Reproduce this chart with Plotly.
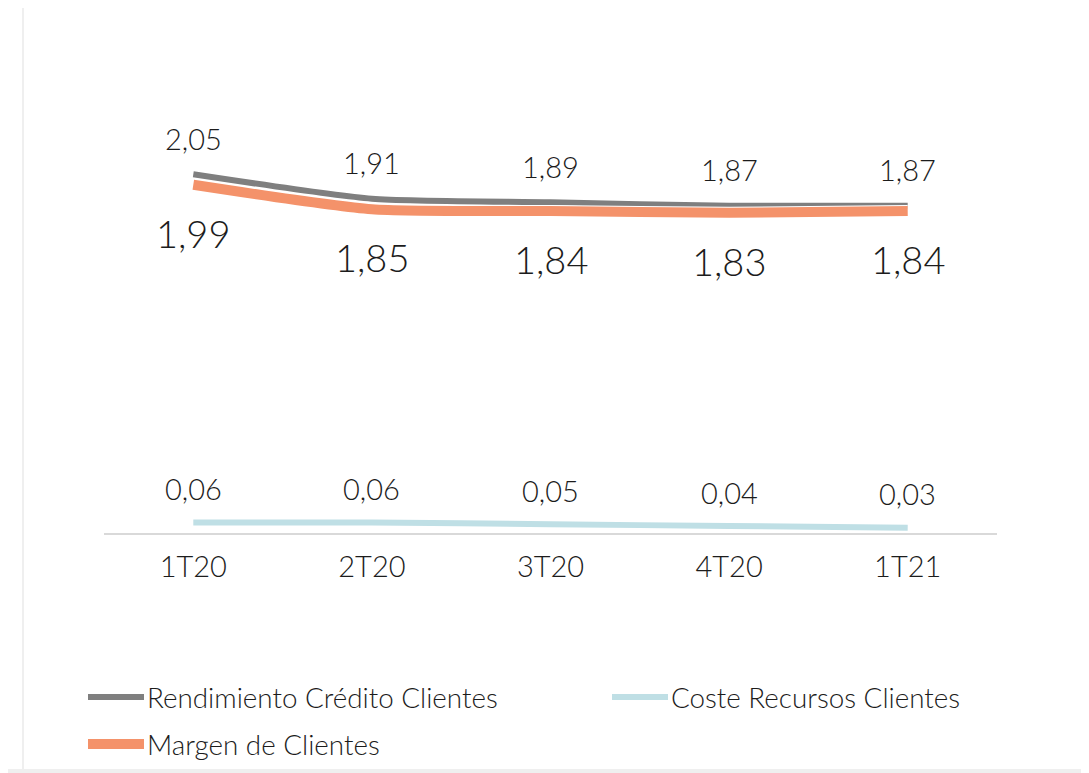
import plotly.graph_objects as go

categories = ["1T20", "2T20", "3T20", "4T20", "1T21"]
rendimiento = [2.05, 1.91, 1.89, 1.87, 1.87]
coste = [0.06, 0.06, 0.05, 0.04, 0.03]
margen = [1.99, 1.85, 1.84, 1.83, 1.84]

names = ["Rendimiento Crédito Clientes", "Coste Recursos Clientes", "Margen de Clientes"]
colors = ["#7f7f7f", "#bfdfe5", "#f4926a"]

def fmt(v):
    return f"{v:.2f}".replace(".", ",")

FONT = "Lato"
TXT = "#1c1c1c"
OFF = 8  # page body margin
W, H = 1089 - OFF, 773 - OFF
# page pixel targets: plot x 104..997, axis at y=533
L = 104 - OFF
R = W - (997 - OFF)
T = 40 - OFF
B = H - (533 - OFF)
pw, ph = W - L - R, H - T - B
ymax = ph / 175.0

fig = go.Figure()
fig.add_trace(go.Scatter(x=categories, y=coste, mode="lines", name=names[1],
                         line=dict(color=colors[1], width=6, shape="spline", smoothing=0.6)))
fig.add_trace(go.Scatter(x=categories, y=rendimiento, mode="lines", name=names[0],
                         line=dict(color=colors[0], width=6, shape="spline", smoothing=0.6)))
fig.add_trace(go.Scatter(x=categories, y=margen, mode="lines", showlegend=False, hoverinfo="skip",
                         line=dict(color="white", width=12, shape="spline", smoothing=0.6)))
fig.add_trace(go.Scatter(x=categories, y=margen, mode="lines", name=names[2],
                         line=dict(color=colors[2], width=10, shape="spline", smoothing=0.6)))

ann = []
for c, v in zip(categories, rendimiento):
    ann.append(dict(x=c, y=v, text=fmt(v), showarrow=False, yshift=36,
                    font=dict(family=FONT, size=29, color=TXT, weight=300)))
for c, v in zip(categories, margen):
    ann.append(dict(x=c, y=v, text=fmt(v), showarrow=False, yshift=-48,
                    font=dict(family=FONT, size=38, color=TXT, weight=300)))
for c, v in zip(categories, coste):
    ann.append(dict(x=c, y=v, text=fmt(v), showarrow=False, yshift=34,
                    font=dict(family=FONT, size=29, color=TXT, weight=300)))

def px2x(px):
    return (px - OFF - L) / pw

def py2y(py):
    return (H - B - (py - OFF)) / ph

shapes = [dict(type="rect", xref="paper", yref="paper", layer="below",
               x0=px2x(-20), x1=px2x(22), y0=py2y(769), y1=py2y(-20),
               fillcolor="white", line=dict(width=0)),
          dict(type="rect", xref="paper", yref="paper", layer="below",
               x0=px2x(24), x1=px2x(1086), y0=py2y(769), y1=py2y(-20),
               fillcolor="white", line=dict(width=0))]

# legend
leg = [(88, 697, 0), (612, 697, 1), (88, 744, 2)]
for lx, ly, i in leg:
    wdt = 10 if i == 2 else 6
    shapes.append(dict(type="line", xref="paper", yref="paper",
                       x0=px2x(lx), x1=px2x(lx + 56), y0=py2y(ly), y1=py2y(ly),
                       line=dict(color=colors[i], width=wdt)))
    ann.append(dict(xref="paper", yref="paper", x=px2x(lx + 57), y=py2y(ly),
                    xanchor="left", yanchor="middle", showarrow=False, text=names[i],
                    font=dict(family=FONT, size=27.8, color=TXT, weight=300)))

fig.update_layout(
    width=W, height=H,
    margin=dict(l=L, r=R, t=T, b=B, pad=0),
    paper_bgcolor="#efefef", plot_bgcolor="white",
    showlegend=False,
    annotations=ann, shapes=shapes,
    xaxis=dict(type="category", range=[-0.5, 4.5], showgrid=False, zeroline=False,
               showline=True, linecolor="#d9d9d9", linewidth=2, ticks="",
               tickfont=dict(family=FONT, size=29, color=TXT, weight=300), ticklabelstandoff=7),
    yaxis=dict(range=[0, ymax], visible=False),
)
fig.write_html("out.html")
